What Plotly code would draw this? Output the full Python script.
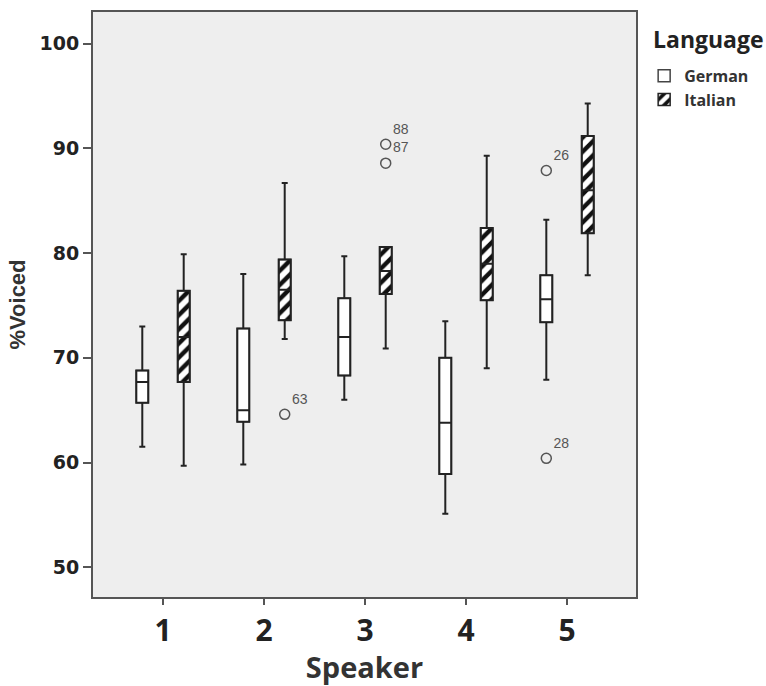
import plotly.graph_objects as go

speakers = ["1", "2", "3", "4", "5"]

german_lower = [61.5, 59.8, 66.0, 55.1, 67.9]
german_q1 = [65.7, 63.9, 68.3, 58.9, 73.4]
german_median = [67.7, 65.0, 72.0, 63.8, 75.6]
german_q3 = [68.8, 72.8, 75.7, 70.0, 77.9]
german_upper = [73.0, 78.0, 79.7, 73.5, 83.2]

italian_lower = [59.7, 71.8, 70.9, 69.0, 77.9]
italian_q1 = [67.7, 73.6, 76.1, 75.5, 81.9]
italian_median = [72.0, 76.5, 78.3, 79.0, 86.0]
italian_q3 = [76.4, 79.4, 80.6, 82.4, 91.2]
italian_upper = [79.9, 86.7, 80.6, 89.3, 94.3]

german_out_x = ["5", "5"]
german_out_y = [87.9, 60.4]
german_out_lbl = ["26", "28"]

italian_out_x = ["2", "3", "3"]
italian_out_y = [64.6, 90.4, 88.6]
italian_out_lbl = ["63", "88", "87"]

y_ticks = [50, 60, 70, 80, 90, 100]

fig = go.Figure()

# IQR fills (bars, grouped)
fig.add_trace(go.Bar(
    x=speakers, y=[b - a for a, b in zip(german_q1, german_q3)], base=german_q1,
    name="German", offsetgroup="German",
    marker=dict(color="white", line=dict(color="#444", width=1.5)),
    hoverinfo="skip", legendrank=1,
))
fig.add_trace(go.Bar(
    x=speakers, y=[b - a for a, b in zip(italian_q1, italian_q3)], base=italian_q1,
    name="Italian", offsetgroup="Italian",
    marker=dict(color="#111111", line=dict(color="#222", width=1.5),
                pattern=dict(shape="/", fgcolor="white", bgcolor="#111111",
                             fgopacity=1, size=10, solidity=0.55)),
    hoverinfo="skip", legendrank=2,
))

# Box outlines, whiskers, medians
for name, lo, q1, med, q3, up in [
    ("German", german_lower, german_q1, german_median, german_q3, german_upper),
    ("Italian", italian_lower, italian_q1, italian_median, italian_q3, italian_upper),
]:
    fig.add_trace(go.Box(
        x=speakers, lowerfence=lo, q1=q1, median=med, q3=q3, upperfence=up,
        name=name, offsetgroup=name, showlegend=False,
        fillcolor="rgba(0,0,0,0)", line=dict(color="#222", width=2),
        whiskerwidth=0.5, boxpoints=False,
    ))

# Outliers
for name, ox, oy, ol in [
    ("German", german_out_x, german_out_y, german_out_lbl),
    ("Italian", italian_out_x, italian_out_y, italian_out_lbl),
]:
    fig.add_trace(go.Scatter(
        x=ox, y=oy, text=ol, mode="markers+text", textposition="top right",
        offsetgroup=name, showlegend=False,
        marker=dict(symbol="circle-open", size=10, color="#555", line=dict(width=1.5)),
        textfont=dict(family="Arial, Liberation Sans", size=14, color="#555"),
    ))

fig.update_layout(
    width=766, height=686,
    margin=dict(l=93, r=130, t=10, b=88),
    paper_bgcolor="white", plot_bgcolor="#eeeeee",
    barmode="group", bargap=0.18, bargroupgap=0.71,
    boxmode="group", boxgap=0.18, boxgroupgap=0.71,
    scattermode="group", scattergap=0.18,
    legend=dict(
        x=1.015, xanchor="left", y=0.92, yanchor="top",
        font=dict(family="Open Sans", size=16, color="#333", weight="bold"),
        bgcolor="rgba(0,0,0,0)",
    ),
    showlegend=True,
    annotations=[dict(
        text="Language", xref="paper", yref="paper", x=1.028, y=0.985,
        xanchor="left", yanchor="top", showarrow=False,
        font=dict(family="Open Sans", size=23, color="#222", weight="bold"),
    )],
)

fig.update_xaxes(
    type="category", categoryorder="array", categoryarray=speakers,
    range=[-0.693, 4.683],
    showgrid=False, zeroline=False,
    showline=True, mirror=True, linecolor="#555", linewidth=2,
    ticks="outside", ticklen=6, tickcolor="#555", tickwidth=1.5,
    tickfont=dict(family="Open Sans", size=30, color="#222", weight="bold"),
    title=dict(text="Speaker", font=dict(family="Open Sans", size=29, color="#333", weight="bold"), standoff=6),
)
fig.update_yaxes(
    range=[47.15, 103.04], tickvals=y_ticks,
    showgrid=False, zeroline=False,
    showline=True, mirror=True, linecolor="#555", linewidth=2,
    ticks="outside", ticklen=8, tickcolor="#555", tickwidth=1.5,
    tickfont=dict(family="DejaVu Sans", size=19, color="#222", weight="bold"),
    title=dict(text="%Voiced", font=dict(family="Arial, Liberation Sans", size=22, color="#333", weight="bold"), standoff=8),
)

fig.write_html("out.html")
